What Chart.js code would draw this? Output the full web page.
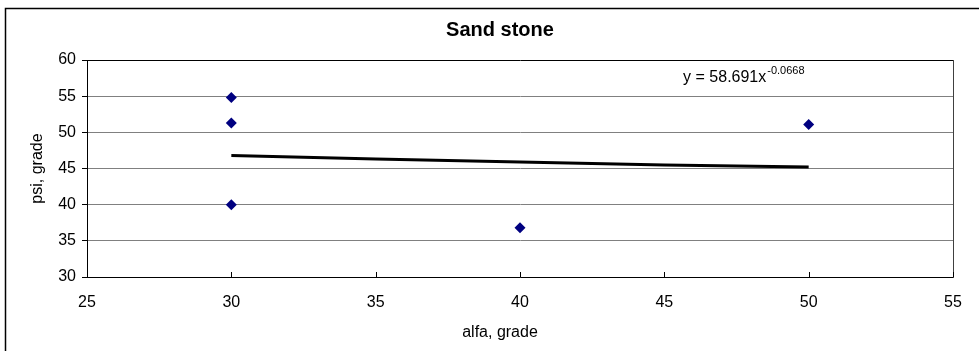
<!DOCTYPE html>
<html>
<head>
<meta charset="utf-8">
<script src="https://cdn.jsdelivr.net/npm/chart.js@4/dist/chart.umd.min.js"></script>
<style>
  html, body { margin: 0; padding: 0; background: #ffffff; }
  #wrap { width: 979px; height: 351px; }
</style>
</head>
<body>
<div id="wrap"><canvas id="c" width="979" height="351"></canvas></div>
<script>
// ---- data ----
const alfa = [30, 30, 30, 40, 50];
const psi = [54.8, 51.3, 40.0, 36.8, 51.1];
const trendAlfa = [30, 35, 40, 45, 50];
const trendPsi = [46.8, 46.3, 45.9, 45.5, 45.2];
const xTickValues = [25, 30, 35, 40, 45, 50, 55];
const yTickValues = [30, 35, 40, 45, 50, 55, 60];
const chartTitle = 'Sand stone';
const xTitle = 'alfa, grade';
const yTitle = 'psi, grade';
const eqMain = 'y = 58.691x';
const eqExp = '-0.0668';

const FONT = "'Liberation Sans', Arial, sans-serif";

const outerBorder = {
  id: 'outerBorder',
  beforeDraw(chart) {
    const ctx = chart.ctx;
    ctx.save();
    ctx.fillStyle = '#ffffff';
    ctx.fillRect(0, 0, chart.width, chart.height);
    ctx.strokeStyle = '#000000';
    ctx.lineWidth = 1.5;
    ctx.strokeRect(5.5, 8.5, chart.width + 10, chart.height + 10);
    ctx.restore();
  }
};

const innerTicks = {
  id: 'innerTicks',
  afterDatasetsDraw(chart) {
    const xs = chart.scales.x;
    const ctx = chart.ctx;
    ctx.save();
    ctx.strokeStyle = '#000000';
    ctx.lineWidth = 1;
    xs.ticks.forEach(t => {
      const px = Math.round(xs.getPixelForValue(t.value)) + 0.5;
      ctx.beginPath();
      ctx.moveTo(px, chart.chartArea.bottom);
      ctx.lineTo(px, chart.chartArea.bottom - 5);
      ctx.stroke();
    });
    ctx.restore();
  }
};

const texts = {
  id: 'texts',
  afterDraw(chart) {
    const ctx = chart.ctx;
    const xs = chart.scales.x, ys = chart.scales.y;
    ctx.save();
    ctx.fillStyle = '#000000';
    // trend line equation
    const x0 = xs.getPixelForValue(45.65);
    const y0 = ys.getPixelForValue(56.9);
    ctx.textBaseline = 'alphabetic';
    ctx.textAlign = 'left';
    ctx.font = '16px ' + FONT;
    ctx.fillText(eqMain, x0, y0);
    const w = ctx.measureText(eqMain).width;
    ctx.font = '11px ' + FONT;
    ctx.fillText(eqExp, x0 + w + 1, y0 - 8);
    // x axis title, centred on the chart box
    ctx.font = '16px ' + FONT;
    ctx.textAlign = 'center';
    ctx.textBaseline = 'middle';
    ctx.fillText(xTitle, (chart.chartArea.left + chart.width) / 2 - 33, xs.bottom - 18);
    ctx.restore();
  }
};

new Chart(document.getElementById('c'), {
  type: 'scatter',
  data: {
    datasets: [
      {
        label: 'psi',
        data: alfa.map((a, i) => ({ x: a, y: psi[i] })),
        pointStyle: 'rectRot',
        pointRadius: 5.5,
        pointBackgroundColor: '#000080',
        pointBorderColor: '#000080',
        pointBorderWidth: 0,
        showLine: false
      },
      {
        label: 'trend',
        data: trendAlfa.map((a, i) => ({ x: a, y: trendPsi[i] })),
        showLine: true,
        borderColor: '#000000',
        borderWidth: 3,
        pointRadius: 0,
        tension: 0.3,
        fill: false
      }
    ]
  },
  options: {
    responsive: false,
    animation: false,
    events: [],
    layout: { padding: { left: 21, right: 0, top: 10, bottom: 0 } },
    plugins: {
      legend: { display: false },
      tooltip: { enabled: false },
      title: {
        display: true,
        text: chartTitle,
        color: '#000000',
        font: { family: FONT, size: 20, weight: 'bold', lineHeight: 1.2 },
        padding: { top: 8, bottom: 18 }
      }
    },
    scales: {
      x: {
        type: 'linear',
        position: 'bottom',
        min: 25, max: 55,
        afterBuildTicks(scale) { scale.ticks = xTickValues.map(v => ({ value: v })); },
        afterFit(scale) { scale.height = 74; },
        grid: { display: false, drawTicks: false },
        border: { display: true, color: '#000000', width: 1 },
        ticks: {
          color: '#000000',
          font: { family: FONT, size: 16 },
          padding: 16,
          maxRotation: 0,
          autoSkip: false
        },
        title: { display: false, text: xTitle }
      },
      y: {
        type: 'linear',
        position: 'left',
        min: 30, max: 60,
        afterBuildTicks(scale) { scale.ticks = yTickValues.map(v => ({ value: v })); },
        afterFit(scale) { scale.width = 66; },
        grid: {
          display: true,
          drawOnChartArea: true,
          drawTicks: true,
          tickLength: 5,
          tickColor: '#000000',
          color: ctx => (ctx.tick && ctx.tick.value === 60 ? '#000000' : '#808080'),
          lineWidth: 1
        },
        border: { display: true, color: '#000000', width: 1 },
        ticks: {
          color: '#000000',
          font: { family: FONT, size: 16 },
          padding: 6,
          autoSkip: false
        },
        title: {
          display: true,
          text: yTitle,
          color: '#000000',
          font: { family: FONT, size: 16 },
          padding: { top: 7, bottom: 0 }
        }
      },
      yR: {
        type: 'linear',
        position: 'right',
        min: 30, max: 60,
        afterFit(scale) { scale.width = 26; },
        grid: { display: false, drawTicks: false },
        border: { display: true, color: '#404040', width: 1 },
        ticks: { display: false }
      }
    }
  },
  plugins: [outerBorder, innerTicks, texts]
});
</script>
</body>
</html>
